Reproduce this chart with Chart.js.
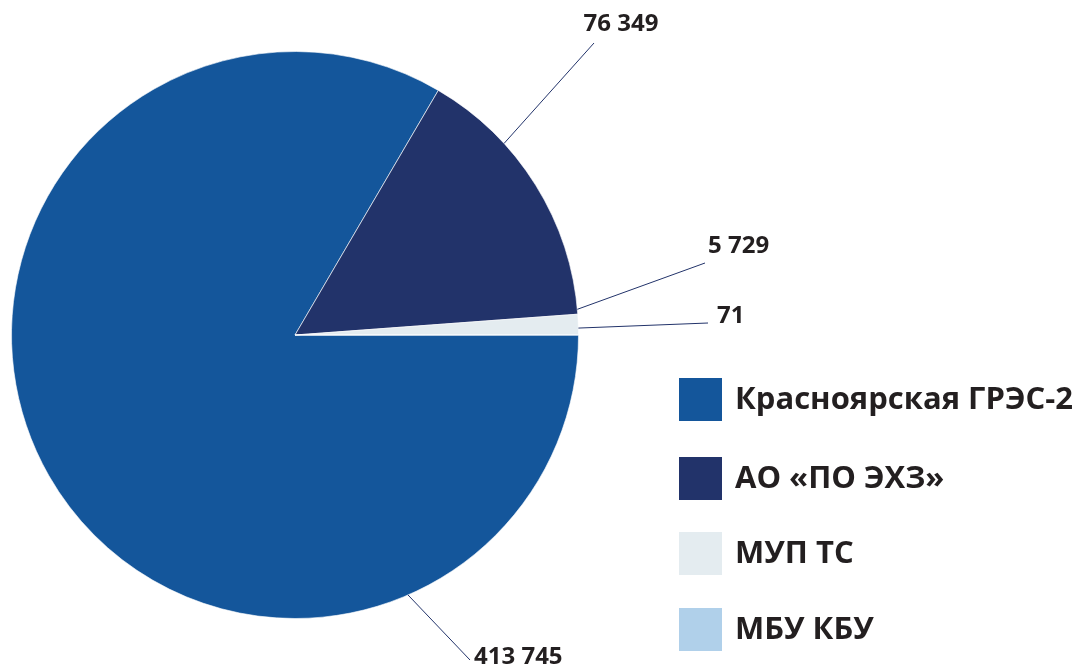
<!DOCTYPE html>
<html>
<head>
<meta charset="utf-8">
<script src="https://cdn.jsdelivr.net/npm/chart.js@4.4.1/dist/chart.umd.min.js"></script>
<style>
  html, body { margin: 0; padding: 0; background: #ffffff; }
  #wrap { width: 1082px; height: 666px; position: relative; }
</style>
</head>
<body>
<div id="wrap"><canvas id="c" width="1082" height="666"></canvas></div>
<script>
// ---- data ----
const categories = ['Красноярская ГРЭС-2', 'АО «ПО ЭХЗ»', 'МУП ТС', 'МБУ КБУ'];
const values = [413745, 76349, 5729, 71];
const valueLabels = ['413 745', '76 349', '5 729', '71'];
const colors = ['#14569b', '#22336a', '#e4ecf0', '#b0d0ea'];

// ---- layout for annotations (not data) ----
// leader start angle in degrees counter-clockwise from 3 o'clock; line end; text anchor
const leaderLayout = [
  { angle: -66.5, end: [470, 660], text: [474, 657], align: 'left' },
  { angle: 42.5,  end: [594, 43],  text: [621, 24],  align: 'center' },
  { angle: 5.2,   end: [705, 263], text: [708, 246], align: 'left' },
  { angle: 1.4,   end: [708, 323], text: [717, 316], align: 'left' }
];
const legendLayout = { x: 679, ys: [378, 457, 532, 608], box: 43, textX: 735 };

const textColor = '#231f20';
const lineColor = '#22336a';

const annotations = {
  id: 'annotations',
  afterDraw(chart) {
    const ctx = chart.ctx;
    const meta = chart.getDatasetMeta(0);
    const arc = meta.data[0];
    const cx = arc.x, cy = arc.y, r = arc.outerRadius;
    ctx.save();
    // leader lines + value labels
    values.forEach((v, i) => {
      const L = leaderLayout[i];
      const a = L.angle * Math.PI / 180;
      const sx = cx + r * Math.cos(a);
      const sy = cy - r * Math.sin(a);
      ctx.beginPath();
      ctx.moveTo(sx, sy);
      ctx.lineTo(L.end[0], L.end[1]);
      ctx.strokeStyle = lineColor;
      ctx.lineWidth = 1;
      ctx.stroke();
      ctx.font = 'bold 24px "Open Sans", sans-serif';
      ctx.fillStyle = textColor;
      ctx.textAlign = L.align;
      ctx.textBaseline = 'middle';
      ctx.fillText(valueLabels[i], L.text[0], L.text[1]);
    });
    // legend
    categories.forEach((c, i) => {
      const y = legendLayout.ys[i];
      ctx.fillStyle = colors[i];
      ctx.fillRect(legendLayout.x, y, legendLayout.box, legendLayout.box);
      ctx.font = 'bold 31px "Open Sans", sans-serif';
      ctx.fillStyle = textColor;
      ctx.textAlign = 'left';
      ctx.textBaseline = 'middle';
      ctx.fillText(c, legendLayout.textX, y + legendLayout.box / 2 + 1);
    });
    ctx.restore();
  }
};

new Chart(document.getElementById('c'), {
  type: 'pie',
  data: {
    labels: categories,
    datasets: [{
      data: values,
      backgroundColor: colors,
      borderColor: 'rgba(255,255,255,0.6)',
      borderWidth: 1,
      hoverOffset: 0
    }]
  },
  options: {
    responsive: false,
    animation: false,
    rotation: 90,
    layout: { padding: { left: 11, top: 51, right: 503, bottom: 47 } },
    plugins: { legend: { display: false }, tooltip: { enabled: false } }
  },
  plugins: [annotations]
});
</script>
</body>
</html>
